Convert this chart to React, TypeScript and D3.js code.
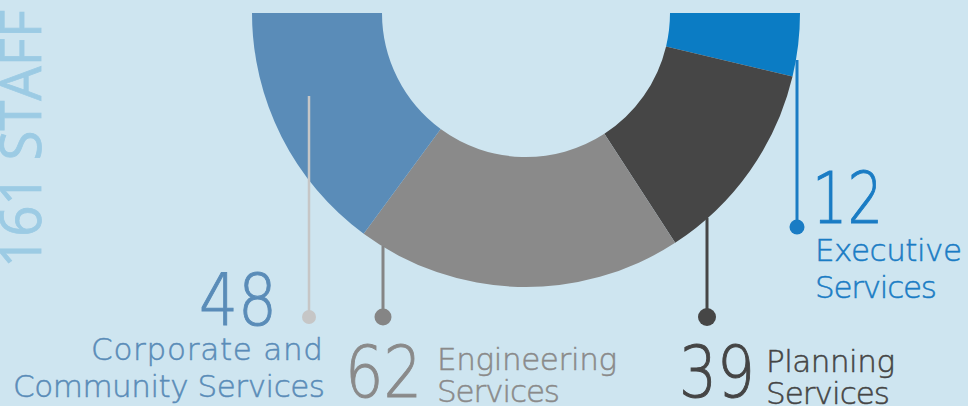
import React from "react";
import * as d3 from "d3";

const categories = ["Corporate and Community Services", "Engineering Services", "Planning Services", "Executive Services"];
const values = [48, 62, 39, 12];
const labelLines = [["Corporate and", "Community Services"], ["Engineering", "Services"], ["Planning", "Services"], ["Executive", "Services"]];
const colors = ["#5a8cb8", "#8a8a8a", "#464646", "#0b7cc4"];
const textColors = ["#5a8cb8", "#8a8a8a", "#454545", "#1a7cc4"];
const lineColors = ["#c6c6c6", "#858585", "#464646", "#1a7cc4"];
const totalLabel = "161 STAFF";

const W = 968, H = 406;
const cx = 526, cy = 13, rOuter = 274, rInner = 144;
const NUMFONT = "'DejaVu Sans', sans-serif";
const LBLFONT = "'DejaVu Sans', sans-serif";
const TOTFONT = "'Open Sans', sans-serif";

export default function App() {
  const idx = d3.range(values.length).reverse();
  const pie = d3.pie<number>().sort(null).value((i) => values[i]).startAngle(Math.PI / 2).endAngle(Math.PI * 1.5);
  const arcs = pie(idx);
  const arc = d3.arc<d3.PieArcDatum<number>>().innerRadius(rInner).outerRadius(rOuter);

  const leaders = [
    { x: 309, y0: 96, y1: 317, r: 7, w: 2.5 },
    { x: 383, y0: 246, y1: 317, r: 8.5, w: 3 },
    { x: 707, y0: 218, y1: 317, r: 9, w: 3 },
    { x: 797, y0: 60, y1: 227, r: 7.5, w: 3 },
  ];

  const num = (i: number, x: number, y: number, len: number, anchor: "start" | "end" = "start") => (
    <text x={x} y={y} fontFamily={NUMFONT} fontSize={71} fontWeight={200} textAnchor={anchor}
      fill={textColors[i]} stroke={textColors[i]} strokeWidth={1}
      textLength={len} lengthAdjust="spacingAndGlyphs">{values[i]}</text>
  );
  const lbl = (i: number, line: number, x: number, y: number, len: number, anchor: "start" | "end" = "start") => (
    <text x={x} y={y} fontFamily={LBLFONT} fontSize={31} fontWeight={200} textAnchor={anchor}
      fill={textColors[i]} stroke={textColors[i]} strokeWidth={0.5}
      textLength={len} lengthAdjust="spacing">{labelLines[i][line]}</text>
  );

  return (
    <svg width={W} height={H} style={{ position: "absolute", left: 0, top: 0, display: "block" }}>
      <rect width={W} height={H} fill="#cee5f0" />
      <g transform={`translate(${cx},${cy})`}>
        {arcs.map((a) => (
          <path key={a.data} d={arc(a) || ""} fill={colors[a.data]} />
        ))}
      </g>
      {leaders.map((l, i) => (
        <g key={i}>
          <line x1={l.x} x2={l.x} y1={l.y0} y2={l.y1} stroke={lineColors[i]} strokeWidth={l.w} />
          <circle cx={l.x} cy={l.y1} r={l.r} fill={lineColors[i]} />
        </g>
      ))}
      <text transform="translate(41,268) rotate(-90)" fontFamily={TOTFONT} fontSize={57} fill="#9ccbe4"
        stroke="#9ccbe4" strokeWidth={0.8}
        textLength={258} lengthAdjust="spacingAndGlyphs">
        {totalLabel}
      </text>
      {num(0, 277, 325, 78, "end")}
      {lbl(0, 0, 323, 360, 232, "end")}
      {lbl(0, 1, 325, 397, 312, "end")}

      {num(1, 345, 397, 77)}
      {lbl(1, 0, 437, 370, 180)}
      {lbl(1, 1, 437, 402, 123)}

      {num(2, 679, 397, 76)}
      {lbl(2, 0, 766, 372, 129)}
      {lbl(2, 1, 766, 404, 124)}

      {num(3, 812, 223, 71)}
      {lbl(3, 0, 815, 261, 147)}
      {lbl(3, 1, 815, 298, 122)}
    </svg>
  );
}
